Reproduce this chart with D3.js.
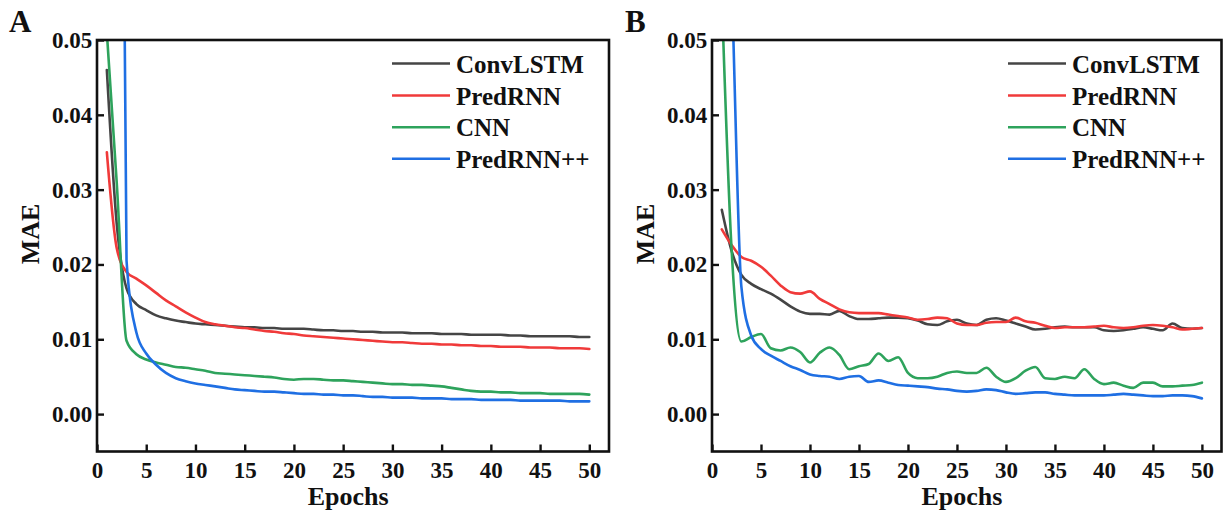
<!DOCTYPE html>
<html>
<head>
<meta charset="utf-8">
<script src="https://cdn.jsdelivr.net/npm/d3@7"></script>
<style>
  html, body { margin: 0; padding: 0; background: #fff; }
  svg { display: block; }
  text { font-family: "Liberation Serif", "Times New Roman", serif; font-weight: bold; fill: #111; }
</style>
</head>
<body>
<svg id="chart" width="1223" height="517"></svg>
<script>
// ---------------- data ----------------
const epochs = d3.range(1, 51);
const seriesNames = ["ConvLSTM", "PredRNN", "CNN", "PredRNN++"];
const seriesColors = ["#454545", "#f03a3a", "#2ea35c", "#1f6fe3"];
const xTicks = [0, 5, 10, 15, 20, 25, 30, 35, 40, 45, 50];
const yTicks = [0.00, 0.01, 0.02, 0.03, 0.04, 0.05];
const panelLabels = ["A", "B"];

// Panel A
const aConvLSTM = [0.0460,0.0255,0.0168,0.0147,0.0139,0.0132,0.0128,0.0125,0.0123,0.0121,0.0120,0.0119,0.0118,0.0117,0.0116,0.0116,0.0115,0.0115,0.0114,0.0114,0.0114,0.0113,0.0112,0.0112,0.0111,0.0111,0.0110,0.0110,0.0109,0.0109,0.0109,0.0108,0.0108,0.0108,0.0107,0.0107,0.0107,0.0106,0.0106,0.0106,0.0106,0.0105,0.0105,0.0104,0.0104,0.0104,0.0104,0.0104,0.0103,0.0103];
const aPredRNN = [0.0350,0.0222,0.0190,0.0181,0.0172,0.0162,0.0152,0.0144,0.0136,0.0129,0.0123,0.0120,0.0118,0.0116,0.0115,0.0113,0.0111,0.0110,0.0108,0.0107,0.0105,0.0104,0.0103,0.0102,0.0101,0.0100,0.0099,0.0098,0.0097,0.0096,0.0096,0.0095,0.0094,0.0094,0.0093,0.0093,0.0092,0.0092,0.0091,0.0091,0.0090,0.0090,0.0090,0.0089,0.0089,0.0089,0.0088,0.0088,0.0088,0.0087];
const aCNN = [0.0510,0.0310,0.0098,0.0080,0.0073,0.0069,0.0066,0.0063,0.0062,0.0060,0.0058,0.0055,0.0054,0.0053,0.0052,0.0051,0.0050,0.0049,0.0047,0.0046,0.0047,0.0047,0.0046,0.0045,0.0045,0.0044,0.0043,0.0042,0.0041,0.0040,0.0040,0.0039,0.0039,0.0038,0.0037,0.0035,0.0033,0.0031,0.0030,0.0030,0.0029,0.0029,0.0028,0.0028,0.0028,0.0027,0.0027,0.0027,0.0027,0.0026];
const aPredRNNpp = [0.3000,0.2000,0.0205,0.0109,0.0081,0.0066,0.0055,0.0048,0.0044,0.0041,0.0039,0.0037,0.0035,0.0033,0.0032,0.0031,0.0030,0.0030,0.0029,0.0028,0.0027,0.0027,0.0026,0.0026,0.0025,0.0025,0.0024,0.0023,0.0023,0.0022,0.0022,0.0022,0.0021,0.0021,0.0021,0.0020,0.0020,0.0020,0.0019,0.0019,0.0019,0.0019,0.0018,0.0018,0.0018,0.0018,0.0018,0.0017,0.0017,0.0017];

// Panel B
const bConvLSTM = [0.0273,0.0218,0.0186,0.0174,0.0167,0.0161,0.0153,0.0144,0.0137,0.0134,0.0134,0.0133,0.0138,0.0131,0.0127,0.0127,0.0128,0.0129,0.0129,0.0128,0.0125,0.0120,0.0119,0.0124,0.0126,0.0121,0.0119,0.0126,0.0128,0.0125,0.0121,0.0117,0.0113,0.0114,0.0116,0.0117,0.0116,0.0116,0.0116,0.0112,0.0111,0.0112,0.0114,0.0116,0.0114,0.0112,0.0121,0.0115,0.0114,0.0115];
const bPredRNN = [0.0247,0.0226,0.0210,0.0205,0.0197,0.0185,0.0172,0.0163,0.0161,0.0164,0.0154,0.0147,0.0140,0.0136,0.0135,0.0135,0.0135,0.0133,0.0131,0.0129,0.0126,0.0127,0.0129,0.0128,0.0121,0.0119,0.0119,0.0122,0.0123,0.0123,0.0129,0.0124,0.0122,0.0118,0.0115,0.0116,0.0116,0.0116,0.0117,0.0118,0.0116,0.0115,0.0116,0.0118,0.0119,0.0118,0.0116,0.0113,0.0114,0.0115];
const bCNN = [0.0560,0.0220,0.0097,0.0103,0.0107,0.0088,0.0085,0.0089,0.0083,0.0069,0.0082,0.0089,0.0079,0.0060,0.0064,0.0067,0.0081,0.0071,0.0076,0.0055,0.0048,0.0048,0.0050,0.0055,0.0057,0.0055,0.0055,0.0062,0.0050,0.0043,0.0048,0.0058,0.0063,0.0048,0.0047,0.0050,0.0048,0.0060,0.0047,0.0040,0.0042,0.0038,0.0035,0.0042,0.0042,0.0037,0.0037,0.0038,0.0039,0.0042];
const bPredRNNpp = [0.0900,0.0580,0.0170,0.0105,0.0087,0.0078,0.0071,0.0064,0.0059,0.0053,0.0051,0.0050,0.0047,0.0050,0.0051,0.0043,0.0045,0.0042,0.0039,0.0038,0.0037,0.0036,0.0034,0.0033,0.0031,0.0030,0.0031,0.0033,0.0032,0.0029,0.0027,0.0028,0.0029,0.0029,0.0027,0.0026,0.0025,0.0025,0.0025,0.0025,0.0026,0.0027,0.0026,0.0025,0.0024,0.0024,0.0025,0.0025,0.0024,0.0021];

const panelSeries = [
  [aConvLSTM, aPredRNN, aCNN, aPredRNNpp],
  [bConvLSTM, bPredRNN, bCNN, bPredRNNpp]
];

// ---------------- layout ----------------
const svg = d3.select("#chart");
const panels = [
  { left: 97, right: 609, top: 40, bottom: 451.5, legendX: 392, letterX: 9 },
  { left: 712, right: 1221.5, top: 40, bottom: 451.5, legendX: 1008, letterX: 625 }
];

panels.forEach((p, pi) => {
  const x = d3.scaleLinear().domain([0, 52]).range([p.left, p.right]);
  const y = d3.scaleLinear().domain([-0.005, 0.05]).range([p.bottom, p.top]);
  const g = svg.append("g");

  const clipId = "clip" + pi;
  svg.append("clipPath").attr("id", clipId)
    .append("rect").attr("x", p.left).attr("y", p.top)
    .attr("width", p.right - p.left).attr("height", p.bottom - p.top);

  // lines
  const line = d3.line().x((d, i) => x(epochs[i])).y(d => y(d)).curve(d3.curveMonotoneX);
  const lg = g.append("g").attr("clip-path", `url(#${clipId})`);
  panelSeries[pi].forEach((vals, si) => {
    lg.append("path").datum(vals)
      .attr("d", line)
      .attr("fill", "none")
      .attr("stroke", seriesColors[si])
      .attr("stroke-width", 2.6)
      .attr("stroke-linejoin", "round")
      .attr("stroke-linecap", "round");
  });

  // axes (inward ticks)
  const xAxis = d3.axisBottom(x).tickValues(xTicks).tickSizeInner(-7).tickSizeOuter(0).tickPadding(14).tickFormat(d3.format("d"));
  const yAxis = d3.axisLeft(y).tickValues(yTicks).tickSizeInner(-7).tickSizeOuter(0).tickPadding(14).tickFormat(d3.format(".2f"));

  const gx = g.append("g").attr("transform", `translate(0,${p.bottom})`).call(xAxis);
  const gy = g.append("g").attr("transform", `translate(${p.left},0)`).call(yAxis);
  [gx, gy].forEach(a => {
    a.select(".domain").remove();
    a.selectAll(".tick line").attr("stroke", "#111").attr("stroke-width", 2.4);
    a.selectAll(".tick text").attr("font-size", 23).attr("fill", "#111")
      .attr("font-family", "Liberation Serif, Times New Roman, serif").attr("font-weight", "bold");
  });
  gy.selectAll(".tick text").attr("dx", "0.4em");
  gx.selectAll(".tick text").attr("dy", "0.55em");

  // frame
  g.append("rect").attr("x", p.left).attr("y", p.top)
    .attr("width", p.right - p.left).attr("height", p.bottom - p.top)
    .attr("fill", "none").attr("stroke", "#111").attr("stroke-width", 2.6);

  // axis titles
  g.append("text").attr("x", (p.left + x(50)) / 2 + 5).attr("y", 505)
    .attr("text-anchor", "middle").attr("font-size", 26).text("Epochs");
  g.append("text").attr("transform", `translate(${p.left - 58},${234}) rotate(-90)`)
    .attr("text-anchor", "middle").attr("font-size", 26).text("MAE");

  // panel letter
  g.append("text").attr("x", p.letterX).attr("y", 32).attr("font-size", 31).text(panelLabels[pi]);

  // legend
  const rowY = [63.5, 95.5, 127.3, 158.8];
  seriesNames.forEach((name, si) => {
    g.append("line").attr("x1", p.legendX).attr("x2", p.legendX + 58)
      .attr("y1", rowY[si]).attr("y2", rowY[si])
      .attr("stroke", seriesColors[si]).attr("stroke-width", 2.6);
    g.append("text").attr("x", p.legendX + 64).attr("y", rowY[si] + 9)
      .attr("font-size", 25).text(name);
  });
});
</script>
</body>
</html>
